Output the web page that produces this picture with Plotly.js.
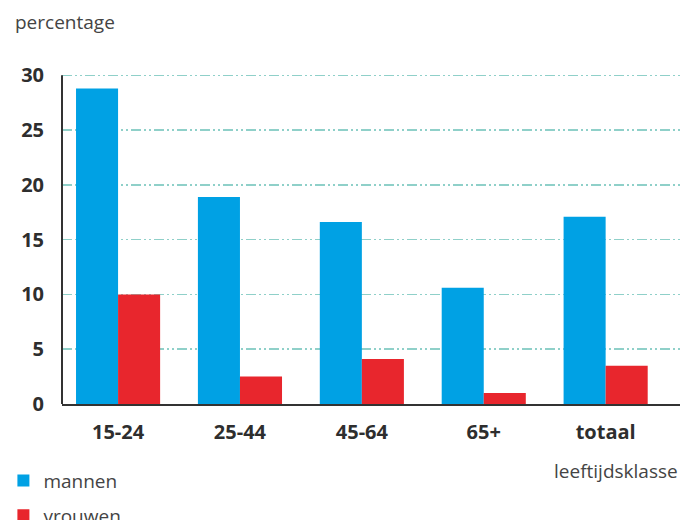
<!DOCTYPE html>
<html>
<head>
<meta charset="utf-8">
<script src="https://cdn.plot.ly/plotly-3.0.1.min.js"></script>
<style>html,body{margin:0;padding:0;background:#fff;}#chart{width:681px;height:520px;}</style>
</head>
<body>
<div id="chart"></div>
<script>
const categories = ["15-24", "25-44", "45-64", "65+", "totaal"];
const mannen = [28.8, 18.9, 16.6, 10.6, 17.1];
const vrouwen = [10.0, 2.5, 4.1, 1.0, 3.5];
const yTicks = [0, 5, 10, 15, 20, 25, 30];

const FONT = "'Open Sans', 'Noto Sans', sans-serif";

const traces = [
  {type: "bar", name: "mannen", x: categories, y: mannen, marker: {color: "#00a1e4"}, legendgroup: "a", hoverinfo: "none"},
  {type: "bar", name: "vrouwen", x: categories, y: vrouwen, marker: {color: "#e8262d"}, legendgroup: "b", hoverinfo: "none"}
];

const layout = {
  width: 681, height: 520,
  margin: {l: 62, r: 1, t: 72, b: 116, autoexpand: false},
  paper_bgcolor: "#fff", plot_bgcolor: "#fff",
  barmode: "group", bargap: 0.31, bargroupgap: 0,
  font: {family: FONT, color: "#333"},
  xaxis: {
    type: "category",
    range: [-0.46, 4.61],
    showline: true, linecolor: "#333", linewidth: 2,
    showgrid: false, zeroline: false, ticks: "",
    tickfont: {family: FONT, size: 20, color: "#2e2e2e", weight: "bold"},
    ticklabelstandoff: 9,
    automargin: false
  },
  yaxis: {
    range: [0, 30.3],
    tickvals: yTicks,
    showline: false,
    showgrid: true, gridcolor: "#8fd0c9", gridwidth: 1.5,
    griddash: "10px,3px,2px,3px,2px,3px",
    zeroline: false, ticks: "",
    tickfont: {family: FONT, size: 20, color: "#2e2e2e", weight: "bold"},
    ticklabelstandoff: 17,
    automargin: false
  },
  shapes: [
    {type: "line", xref: "paper", yref: "y", x0: 0, x1: 0, y0: 0, y1: yTicks[yTicks.length - 1],
     line: {color: "#333", width: 2}, layer: "above"}
  ],
  showlegend: true,
  legend: {
    xref: "container", yref: "container",
    x: 0.005, y: 0.112, xanchor: "left", yanchor: "top",
    orientation: "v", traceorder: "grouped", tracegroupgap: 7,
    font: {family: FONT, size: 19, color: "#444"},
    bgcolor: "rgba(0,0,0,0)", itemwidth: 30
  },
  annotations: [
    {text: "percentage", xref: "paper", yref: "paper", x: -0.08, y: 1.0, yshift: 50,
     xanchor: "left", yanchor: "middle", showarrow: false,
     font: {family: FONT, size: 19, color: "#444"}},
    {text: "leeftijdsklasse", xref: "paper", yref: "paper", x: 1.0, y: 0, yshift: -67,
     xanchor: "right", yanchor: "middle", showarrow: false,
     font: {family: FONT, size: 19, color: "#444"}}
  ]
};

Plotly.newPlot("chart", traces, layout, {displayModeBar: false, staticPlot: true});
</script>
</body>
</html>
